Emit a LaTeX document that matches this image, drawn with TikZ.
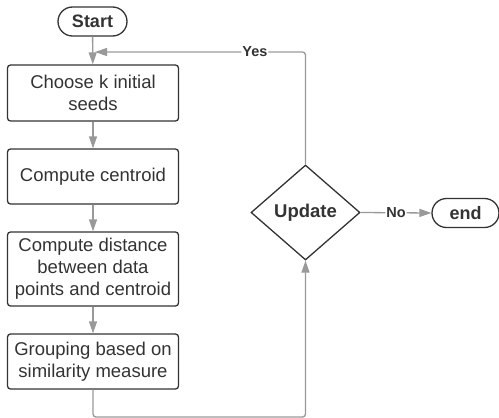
\documentclass[tikz,border=0pt]{standalone}
\usepackage{fontspec}
\setmainfont{Liberation Sans}
\usetikzlibrary{arrows.meta,shapes.geometric}
\definecolor{txt}{HTML}{333333}
\definecolor{edge}{HTML}{999999}
\begin{document}
\begin{tikzpicture}[x=1pt,y=-1pt,
  procbox/.style={draw=txt,line width=1.3pt,rounded corners=3pt,minimum width=171pt,inner sep=0pt,
    align=center,text=txt,font=\fontsize{18.5}{22}\selectfont},
  pill/.style={draw=txt,line width=1.3pt,rounded corners=14.5pt,minimum height=29pt,inner sep=0pt,
    text=txt,font=\bfseries\fontsize{18}{22}\selectfont},
  dec/.style={draw=txt,line width=1.3pt,diamond,aspect=1.15,minimum width=109pt,minimum height=95pt,inner sep=0pt,
    text=txt,font=\bfseries\fontsize{18.5}{22}\selectfont},
  flow/.style={draw=edge,line width=1.3pt,-{Triangle[length=12pt,width=8pt]},rounded corners=3pt},
  lab/.style={fill=white,inner sep=1pt,text=txt,font=\bfseries\fontsize{14.5}{16}\selectfont}
]
\useasboundingbox (0,0) rectangle (499,418);
\node[pill,minimum width=69pt] (start) at (92.5,21.5) {Start};
\node[procbox,minimum height=56pt] (choose) at (93,93) {Choose k initial\\seeds};
\node[procbox,minimum height=55pt] (cent) at (93,176.5) {Compute centroid};
\node[procbox,minimum height=74pt] (dist) at (93,269) {Compute distance\\between data\\points and centroid};
\node[procbox,minimum height=55pt] (group) at (93,361.5) {Grouping based on\\similarity measure};
\node[dec] (upd) at (305.5,212.5) {Update};
\node[pill,minimum width=67pt] (end) at (465.5,213) {end};
\coordinate (merge) at (93,52);
\coordinate (bl) at (93,417);
\coordinate (br) at (305.5,417);
\coordinate (tr) at (305.5,52);
\draw[flow] (start) -- (choose);
\draw[flow] (choose) -- (cent);
\draw[flow] (cent) -- (dist);
\draw[flow] (dist) -- (group);
\draw[flow] (group.south) -- (bl) -- (br) -- (upd.south);
\draw[flow] (upd.north) -- (tr) -- node[lab,pos=0.24]{Yes} ([xshift=2pt]merge);
\draw[flow] (upd.east) -- node[lab,pos=0.5]{No} (end.west);
\end{tikzpicture}
\end{document}
